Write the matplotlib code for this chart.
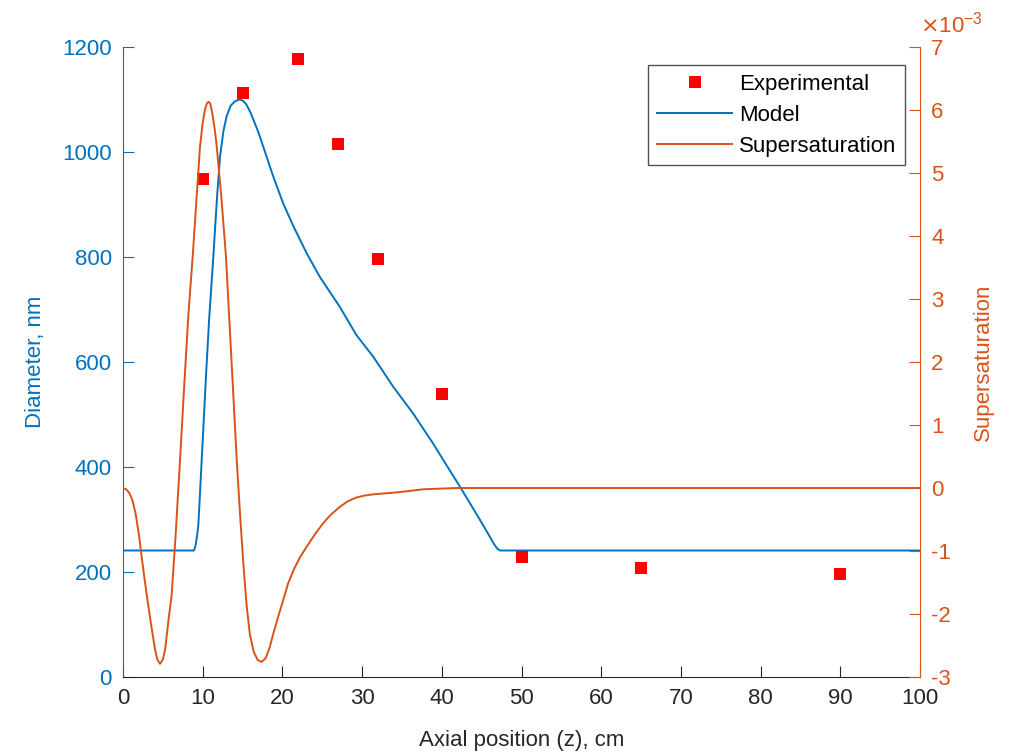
import numpy as np
import matplotlib
matplotlib.use("Agg")
import matplotlib.pyplot as plt

plt.rcParams['font.family'] = ['Liberation Sans', 'DejaVu Sans']
plt.rcParams['axes.unicode_minus'] = False

# -----------------------------
# Données
# -----------------------------
# Points expérimentaux (diamètre, nm)
z_exp = [10, 15, 22, 27, 32, 40, 50, 65, 90]
d_exp = [949, 1113, 1177, 1015, 796, 539, 228, 207, 196]

# Modèle (diamètre, nm)
z_model = [0, 8.9, 9.1, 9.3, 9.45, 9.66, 9.87, 10.1, 10.4, 10.8, 11.33,
           11.8, 12.17, 12.6, 13.0, 13.5, 14.0, 14.4, 14.68, 15.1, 15.5,
           16.0, 16.35, 17.0, 17.6, 18.86, 20.1, 21.4, 23.05, 24.7, 27.2,
           29.3, 31.4, 33.9, 36.4, 38.9, 40.2, 42.3, 44.8, 46.0, 46.6,
           47.0, 47.3, 100]
d_model = [241, 241, 250, 270, 290, 350, 413, 480, 570, 680, 800,
           915, 991, 1040, 1068, 1088, 1096, 1099, 1100, 1097, 1090,
           1075, 1062, 1037, 1010, 953, 902, 858, 807, 762, 705,
           651, 610, 553, 502, 445, 413, 362, 299, 268, 252,
           244, 241, 241]

# Sursaturation (x 1e-3)
z_ss = [0, 0.4, 0.8, 1.2, 1.6, 2.0, 2.5, 3.0, 3.5, 4.0, 4.3, 4.64, 5.0,
        5.3, 5.7, 6.1, 6.6, 7.15, 7.6, 8.2, 8.74, 9.2, 9.66, 10.0, 10.3,
        10.55, 10.75, 10.95, 11.2, 11.5, 11.76, 12.35, 12.92, 13.6, 14.27,
        14.7, 15.1, 15.5, 15.9, 16.4, 16.9, 17.4, 17.9, 18.4, 18.86, 19.5,
        20.1, 20.7, 21.4, 22.2, 23.05, 24.0, 25.1, 26.1, 27.2, 28.2, 29.3,
        30.3, 31.4, 34.3, 37.7, 41.9, 100]
ss = [0.0, -0.02, -0.08, -0.2, -0.42, -0.75, -1.25, -1.72, -2.15, -2.55,
      -2.72, -2.79, -2.72, -2.55, -2.1, -1.7, -0.75, 0.44, 1.45, 2.75,
      3.67, 4.55, 5.42, 5.8, 6.02, 6.11, 6.13, 6.1, 5.95, 5.7, 5.42, 4.6,
      3.67, 2.05, 0.44, -0.45, -1.2, -1.85, -2.31, -2.6, -2.73, -2.76,
      -2.7, -2.53, -2.31, -2.03, -1.78, -1.52, -1.30, -1.1, -0.93, -0.75,
      -0.56, -0.42, -0.30, -0.21, -0.15, -0.12, -0.10, -0.07, -0.02, 0.0,
      0.0]

blue = '#0072BD'
orange = '#D95319'
dark = '#262626'

# -----------------------------
# Figure
# -----------------------------
fig = plt.figure(figsize=(10.15, 7.52), dpi=100)
ax = fig.add_axes([0.1212, 0.0997, 0.7852, 0.8378])
ax2 = ax.twinx()

l_exp, = ax.plot(z_exp, d_exp, 's', color='#FF0000', markersize=8,
                 markeredgewidth=0, label='Experimental', zorder=5)
l_mod, = ax.plot(z_model, d_model, '-', color=blue, lw=1.4, label='Model')
l_ss, = ax2.plot(z_ss, ss, '-', color=orange, lw=1.4, label='Supersaturation')

ax.set_xlim(0, 100)
ax.set_ylim(0, 1200)
ax2.set_ylim(-3, 7)
ax.set_xticks(np.arange(0, 101, 10))
ax.set_yticks(np.arange(0, 1201, 200))
ax2.set_yticks(np.arange(-3, 8, 1))

fs = 16
for a in (ax, ax2):
    a.spines['top'].set_visible(False)
ax.spines['right'].set_visible(False)
ax.spines['left'].set_color(blue)
ax.spines['bottom'].set_color(dark)
ax2.spines['left'].set_visible(False)
ax2.spines['bottom'].set_visible(False)
ax2.spines['right'].set_color(orange)

ax.tick_params(axis='x', direction='in', length=8, colors=dark,
               labelsize=fs, pad=8, top=False)
ax.tick_params(axis='y', direction='in', length=8, colors=blue,
               labelsize=fs, pad=8)
ax2.tick_params(axis='y', direction='in', length=8, colors=orange,
                labelsize=fs, pad=8)

ax.set_xlabel('Axial position (z), cm', fontsize=fs, color=dark, labelpad=15)
ax.set_ylabel('Diameter, nm', fontsize=fs, color=blue, labelpad=12)
ax2.set_ylabel('Supersaturation', fontsize=fs, color=orange, labelpad=16)

ax2.text(1.0, 1.015, r'$\times$10$^{\mathregular{-3}}$', transform=ax2.transAxes,
         fontsize=fs, color=orange, ha='left', va='bottom')

leg = ax2.legend(handles=[l_exp, l_mod, l_ss], loc='upper right',
                 bbox_to_anchor=(0.981, 0.971), fontsize=fs, frameon=True,
                 fancybox=False, edgecolor=dark, handlelength=3.4,
                 borderpad=0.38, labelspacing=0.45, handletextpad=0.3,
                 borderaxespad=0)
leg.get_frame().set_linewidth(1.0)

fig.savefig('out.png', dpi=100)
